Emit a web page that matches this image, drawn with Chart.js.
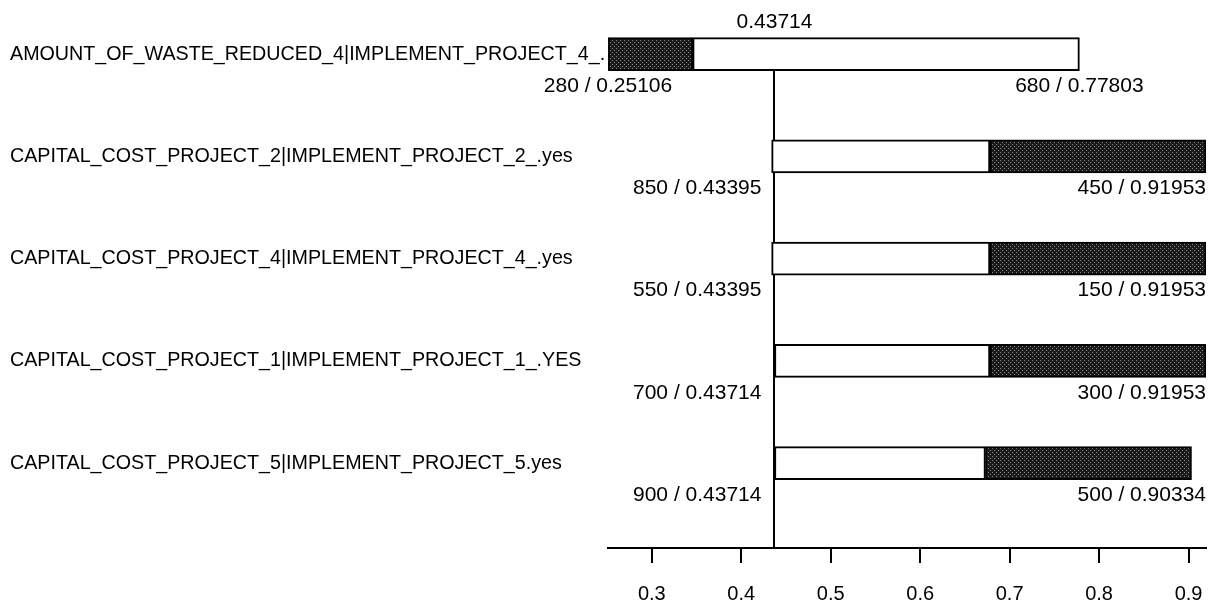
<!DOCTYPE html>
<html>
<head>
<meta charset="utf-8">
<script src="https://cdn.jsdelivr.net/npm/chart.js@4/dist/chart.umd.min.js"></script>
<style>
  html, body { margin: 0; padding: 0; background: #fff; }
  #wrap { width: 1215px; height: 610px; }
</style>
</head>
<body>
<div id="wrap"><canvas id="tornado"></canvas></div>
<script>
// Tornado data
const categories = [
    'AMOUNT_OF_WASTE_REDUCED_4|IMPLEMENT_PROJECT_4_.',
    'CAPITAL_COST_PROJECT_2|IMPLEMENT_PROJECT_2_.yes',
    'CAPITAL_COST_PROJECT_4|IMPLEMENT_PROJECT_4_.yes',
    'CAPITAL_COST_PROJECT_1|IMPLEMENT_PROJECT_1_.YES',
    'CAPITAL_COST_PROJECT_5|IMPLEMENT_PROJECT_5.yes'
];
const baseValue = 0.43714;
const lowInputs = [280, 450, 150, 300, 500];          // dark end
const lowOutputs = [0.25106, 0.91953, 0.91953, 0.91953, 0.90334];
const highInputs = [680, 850, 550, 700, 900];         // white end
const highOutputs = [0.77803, 0.43395, 0.43395, 0.43714, 0.43714];
const splitValues = [0.3457, 0.678, 0.678, 0.678, 0.673];
const tickValues = [0.3, 0.4, 0.5, 0.6, 0.7, 0.8, 0.9];

const FONT = '"Liberation Sans", Arial, sans-serif';

// stippled fill for the dark part of the bars
function makePattern() {
    const c = document.createElement('canvas');
    c.width = 4;
    c.height = 4;
    const g = c.getContext('2d');
    g.fillStyle = '#1a1a1a';
    g.fillRect(0, 0, 4, 4);
    g.fillStyle = '#8a8a8a';
    g.fillRect(0, 0, 1, 1);
    g.fillRect(2, 2, 1, 1);
    return g.createPattern(c, 'repeat');
}

const darkData = categories.map((c, i) => ({ x: [lowOutputs[i], splitValues[i]], y: i }));
const whiteData = categories.map((c, i) => ({ x: [splitValues[i], highOutputs[i]], y: i }));

// base line + number labels
const tornadoLabels = {
    id: 'tornadoLabels',
    beforeDatasetsDraw(chart) {
        const { ctx, chartArea, scales: { x, y } } = chart;
        const bx = Math.round(x.getPixelForValue(baseValue));
        ctx.save();
        ctx.strokeStyle = '#000';
        ctx.lineWidth = 2;
        ctx.beginPath();
        ctx.moveTo(bx, y.getPixelForValue(0));
        ctx.lineTo(bx, chartArea.bottom);
        ctx.stroke();
        ctx.restore();
    },
    afterDatasetsDraw(chart) {
        const { ctx, chartArea, scales: { x, y } } = chart;
        const bx = x.getPixelForValue(baseValue);
        ctx.save();
        ctx.fillStyle = '#000';
        ctx.font = '21px ' + FONT;
        ctx.textBaseline = 'middle';
        ctx.textAlign = 'center';
        ctx.fillText(baseValue.toFixed(5), bx, y.getPixelForValue(0) - 32);

        categories.forEach((c, i) => {
            const lowText = lowInputs[i] + ' / ' + lowOutputs[i].toFixed(5);
            const highText = highInputs[i] + ' / ' + highOutputs[i].toFixed(5);
            let left, right;
            if (lowOutputs[i] < highOutputs[i]) {
                left = { text: lowText, v: lowOutputs[i] };
                right = { text: highText, v: highOutputs[i] };
            } else {
                left = { text: highText, v: highOutputs[i] };
                right = { text: lowText, v: lowOutputs[i] };
            }
            const ly = y.getPixelForValue(i) + 32;

            // left label: centred on the bar end, kept clear of the base line
            let w = ctx.measureText(left.text).width;
            let cx = x.getPixelForValue(left.v);
            if (cx + w / 2 > bx - 13) cx = bx - 13 - w / 2;
            ctx.fillText(left.text, cx, ly);

            // right label: centred on the bar end, kept inside the plot
            w = ctx.measureText(right.text).width;
            cx = x.getPixelForValue(right.v);
            if (cx + w / 2 > chartArea.right) cx = chartArea.right - w / 2;
            ctx.fillText(right.text, cx, ly);
        });
        ctx.restore();
    }
};

const ctx = document.getElementById('tornado').getContext('2d');
const darkFill = makePattern();

new Chart(ctx, {
    type: 'bar',
    data: {
        datasets: [
            {
                data: darkData,
                backgroundColor: darkFill,
                borderColor: '#000',
                borderWidth: 2,
                borderSkipped: false,
                barThickness: 33,
                grouped: false
            },
            {
                data: whiteData,
                backgroundColor: '#fff',
                borderColor: '#000',
                borderWidth: 2,
                borderSkipped: false,
                barThickness: 33,
                grouped: false
            }
        ]
    },
    options: {
        indexAxis: 'y',
        responsive: true,
        maintainAspectRatio: false,
        animation: false,
        layout: { padding: { left: 10, right: 9, top: 3, bottom: 0 } },
        plugins: {
            legend: { display: false },
            tooltip: { enabled: false }
        },
        scales: {
            x: {
                type: 'linear',
                position: 'bottom',
                min: Math.min(...lowOutputs, ...highOutputs),
                max: Math.max(...lowOutputs, ...highOutputs),
                afterBuildTicks: (scale) => {
                    scale.ticks = tickValues.map(v => ({ value: v }));
                },
                afterFit: (scale) => {
                    scale.height = 62;
                    scale.paddingLeft = 0;
                    scale.paddingRight = 0;
                },
                grid: {
                    drawOnChartArea: false,
                    drawTicks: true,
                    tickLength: 15,
                    color: '#000',
                    lineWidth: 2
                },
                border: { display: true, color: '#000', width: 2 },
                ticks: {
                    color: '#000',
                    font: { family: FONT, size: 20 },
                    padding: 19,
                    maxRotation: 0,
                    callback: (v) => Number(v).toFixed(1)
                }
            },
            y: {
                type: 'linear',
                offset: false,
                reverse: true,
                min: -0.5,
                max: 4.83,
                afterBuildTicks: (scale) => {
                    scale.ticks = categories.map((c, i) => ({ value: i }));
                },
                afterFit: (scale) => {
                    scale.width = 598;
                    scale.paddingTop = 0;
                    scale.paddingBottom = 0;
                },
                grid: { display: false },
                border: { display: false },
                ticks: {
                    color: '#000',
                    crossAlign: 'far',
                    font: { family: FONT, size: 19.7 },
                    callback: (v) => categories[v]
                }
            }
        }
    },
    plugins: [tornadoLabels]
});
</script>
</body>
</html>
